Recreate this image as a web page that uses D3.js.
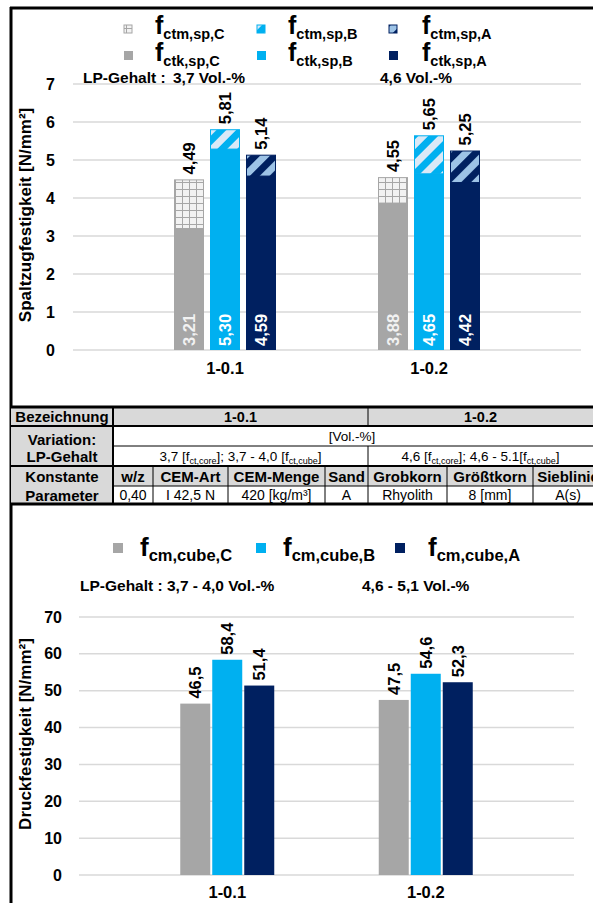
<!DOCTYPE html>
<html>
<head>
<meta charset="utf-8">
<script src="https://cdn.jsdelivr.net/npm/d3@7"></script>
<style>
  body { margin: 0; background: #fff; }
  svg { display: block; }
  text { font-family: "Liberation Sans", Arial, sans-serif; }
</style>
</head>
<body>
<svg id="chart" width="593" height="903"></svg>
<script>
// ---- data -------------------------------------------------------------
const categories = ["1-0.1", "1-0.2"];
const seriesKeys = ["C", "B", "A"];

// splitting tensile strength: mean (cube) and characteristic (core) values
const fctmC = [4.49, 4.55];
const fctmB = [5.81, 5.65];
const fctmA = [5.14, 5.25];
const fctkC = [3.21, 3.88];
const fctkB = [5.30, 4.65];
const fctkA = [4.59, 4.42];

// cube compressive strength
const fcmC = [46.5, 47.5];
const fcmB = [58.4, 54.6];
const fcmA = [51.4, 52.3];

const splitTicks = [0, 1, 2, 3, 4, 5, 6, 7];
const cubeTicks = [0, 10, 20, 30, 40, 50, 60, 70];

const lpSplit = ["3,7 Vol.-%", "4,6 Vol.-%"];
const lpCube = ["3,7 - 4,0 Vol.-%", "4,6 - 5,1 Vol.-%"];

const constHeads = ["w/z", "CEM-Art", "CEM-Menge", "Sand", "Grobkorn", "Größtkorn", "Sieblinie"];
const constVals = ["0,40", "I 42,5 N", "420 [kg/m³]", "A", "Rhyolith", "8 [mm]", "A(s)"];

// ---- styling ----------------------------------------------------------
const colors = { C: "#a6a6a6", B: "#00b0f0", A: "#002060" };
const locale = d3.formatLocale({ decimal: ",", thousands: ".", grouping: [3], currency: ["", "€"] });
const fmt2 = locale.format(".2f");
const fmt1 = locale.format(".1f");

const svg = d3.select("#chart");
const defs = svg.append("defs");

// grid pattern for the C series
const pc = defs.append("pattern").attr("id", "patC")
  .attr("patternUnits", "userSpaceOnUse").attr("width", 7).attr("height", 7);
pc.append("rect").attr("width", 7).attr("height", 7).attr("fill", "#a6a6a6");
pc.append("rect").attr("x", 1).attr("y", 1).attr("width", 6).attr("height", 6).attr("fill", "#f2f2f2");

// diagonal stripe patterns for B and A
function stripes(id, base, light) {
  const p = defs.append("pattern").attr("id", id)
    .attr("patternUnits", "userSpaceOnUse").attr("width", 14).attr("height", 14)
    .attr("patternTransform", "rotate(45)");
  p.append("rect").attr("width", 14).attr("height", 14).attr("fill", base);
  p.append("rect").attr("width", 7).attr("height", 14).attr("fill", light);
}
stripes("patB", "#00b0f0", "#dae9f7");
stripes("patA", "#002060", "#9dc3e6");
const patterns = { C: "url(#patC)", B: "url(#patB)", A: "url(#patA)" };

// ---- frame ------------------------------------------------------------
const frame = svg.append("g").attr("stroke", "#000").attr("stroke-width", 3);
frame.append("line").attr("x1", 11).attr("x2", 11).attr("y1", 7).attr("y2", 903);
frame.append("line").attr("x1", 10).attr("x2", 593).attr("y1", 8).attr("y2", 8);

// ---- helpers ------------------------------------------------------------
function legendText(g, x, y, sub, size, subSize) {
  const t = g.append("text").attr("x", x).attr("y", y)
    .attr("font-weight", "bold").attr("fill", "#000");
  t.append("tspan").attr("font-size", size).text("f");
  t.append("tspan").attr("font-size", subSize).attr("dy", 5).text(sub);
}
function styleAxisText(axis, size) {
  axis.select(".domain").remove();
  axis.selectAll("text").attr("font-size", size).attr("font-weight", "bold").attr("fill", "#000")
    .attr("font-family", "Liberation Sans, Arial, sans-serif");
}

// =======================================================================
// top chart: splitting tensile strength
// =======================================================================
const yS = d3.scaleLinear().domain([0, 7]).range([350, 84]);
const xS = d3.scaleBand().domain(categories).range([123, 531]);
const xSi = d3.scaleBand().domain(seriesKeys).range([-51, 51]).paddingInner(1 / 6);

const gSplit = svg.append("g");
gSplit.append("g").selectAll("line").data(splitTicks).join("line")
  .attr("x1", 73).attr("x2", 581)
  .attr("y1", d => yS(d)).attr("y2", d => yS(d))
  .attr("stroke", "#d9d9d9").attr("stroke-width", 1.5);

const yAxS = gSplit.append("g").attr("transform", "translate(57,0)")
  .call(d3.axisLeft(yS).tickValues(splitTicks).tickSize(0).tickPadding(2).tickFormat(d3.format("d")));
styleAxisText(yAxS, 16);

const xAxS = gSplit.append("g").attr("transform", "translate(0,359)")
  .call(d3.axisBottom(xS).tickSize(0).tickPadding(3));
styleAxisText(xAxS, 16.5);

gSplit.append("text").attr("transform", "translate(31,215) rotate(-90)")
  .attr("text-anchor", "middle").attr("font-size", 17).attr("font-weight", "bold")
  .text("Spaltzugfestigkeit [N/mm²]");

const splitRows = [];
categories.forEach((c, i) => {
  splitRows.push({ cat: c, key: "C", m: fctmC[i], k: fctkC[i] });
  splitRows.push({ cat: c, key: "B", m: fctmB[i], k: fctkB[i] });
  splitRows.push({ cat: c, key: "A", m: fctmA[i], k: fctkA[i] });
});
const bx = d => xS(d.cat) + xS.bandwidth() / 2 + xSi(d.key);
const bw = xSi.bandwidth();

// characteristic part (solid)
gSplit.append("g").selectAll("rect").data(splitRows).join("rect")
  .attr("x", bx).attr("width", bw)
  .attr("y", d => yS(d.k)).attr("height", d => yS(0) - yS(d.k))
  .attr("fill", d => colors[d.key]);
// mean part above (patterned)
gSplit.append("g").selectAll("rect").data(splitRows).join("rect")
  .attr("x", d => bx(d) + 0.5).attr("width", bw - 1)
  .attr("y", d => yS(d.m) + 0.5).attr("height", d => yS(d.k) - yS(d.m))
  .attr("fill", d => patterns[d.key])
  .attr("stroke", d => colors[d.key]).attr("stroke-width", 1);

// labels
gSplit.append("g").selectAll("text").data(splitRows).join("text")
  .attr("transform", d => `translate(${bx(d) + bw / 2 + 6},${yS(d.m) - 5}) rotate(-90)`)
  .attr("font-size", 16.5).attr("font-weight", "bold").attr("fill", "#000")
  .text(d => fmt2(d.m));
gSplit.append("g").selectAll("text").data(splitRows).join("text")
  .attr("transform", d => `translate(${bx(d) + bw / 2 + 6},${yS(0) - 4}) rotate(-90)`)
  .attr("font-size", 16.5).attr("font-weight", "bold").attr("fill", d => d.key === "C" ? "#f2f2f2" : "#fff")
  .text(d => fmt2(d.k));

// legend
const legTop = svg.append("g");
const legX = [128, 261, 393];
const legTX = [155, 288, 422];
seriesKeys.forEach((k, i) => {
  legTop.append("rect").attr("x", legX[i] - 4).attr("y", 25).attr("width", 8).attr("height", 8)
    .attr("fill", patterns[k]).attr("stroke", colors[k]).attr("stroke-width", 1);
  legendText(legTop, legTX[i], 34, "ctm,sp," + k, 25, 14.5);
  legTop.append("rect").attr("x", legX[i] - 4).attr("y", 51).attr("width", 9).attr("height", 9)
    .attr("fill", colors[k]);
  legendText(legTop, legTX[i], 61, "ctk,sp," + k, 25, 14.5);
});
legTop.append("text").attr("x", 83).attr("y", 83).attr("font-size", 15.5).attr("font-weight", "bold")
  .text("LP-Gehalt :");
legTop.append("text").attr("x", 173).attr("y", 83).attr("font-size", 15.5).attr("font-weight", "bold")
  .text(lpSplit[0]);
legTop.append("text").attr("x", 380).attr("y", 83).attr("font-size", 15.5).attr("font-weight", "bold")
  .text(lpSplit[1]);

// =======================================================================
// table
// =======================================================================
const tb = svg.append("g");
const colX = [113, 153, 228, 325, 368, 447, 533, 600];
const rowY = [407, 426, 446, 466, 486, 504];
const gray = "#d9d9d9";

tb.append("rect").attr("x", 11).attr("y", rowY[0]).attr("width", 590).attr("height", rowY[1] - rowY[0]).attr("fill", gray);
tb.append("rect").attr("x", 11).attr("y", rowY[1]).attr("width", 102).attr("height", rowY[5] - rowY[1]).attr("fill", gray);
tb.append("rect").attr("x", 113).attr("y", rowY[3]).attr("width", 490).attr("height", rowY[4] - rowY[3]).attr("fill", gray);

const tl = tb.append("g").attr("stroke", "#000");
tl.append("line").attr("x1", 10).attr("x2", 593).attr("y1", rowY[0]).attr("y2", rowY[0]).attr("stroke-width", 3);
tl.append("line").attr("x1", 11).attr("x2", 593).attr("y1", rowY[1]).attr("y2", rowY[1]).attr("stroke-width", 2);
tl.append("line").attr("x1", 113).attr("x2", 593).attr("y1", rowY[2]).attr("y2", rowY[2]).attr("stroke-width", 1);
tl.append("line").attr("x1", 11).attr("x2", 593).attr("y1", rowY[3]).attr("y2", rowY[3]).attr("stroke-width", 2);
tl.append("line").attr("x1", 113).attr("x2", 593).attr("y1", rowY[4]).attr("y2", rowY[4]).attr("stroke-width", 1);
tl.append("line").attr("x1", 10).attr("x2", 593).attr("y1", rowY[5]).attr("y2", rowY[5]).attr("stroke-width", 3);
tl.append("line").attr("x1", 113).attr("x2", 113).attr("y1", rowY[0]).attr("y2", rowY[5]).attr("stroke-width", 2);
tl.append("line").attr("x1", colX[4]).attr("x2", colX[4]).attr("y1", rowY[0]).attr("y2", rowY[1]).attr("stroke-width", 1);
tl.append("line").attr("x1", colX[4]).attr("x2", colX[4]).attr("y1", rowY[2]).attr("y2", rowY[3]).attr("stroke-width", 1);
colX.slice(1, 7).forEach(x => {
  tl.append("line").attr("x1", x).attr("x2", x).attr("y1", rowY[3]).attr("y2", rowY[5]).attr("stroke-width", 1);
});

function cell(x, y, txt, bold, size) {
  return tb.append("text").attr("x", x).attr("y", y).attr("dy", "0.35em")
    .attr("text-anchor", "middle").attr("font-size", size || 13)
    .attr("font-weight", bold ? "bold" : "normal").text(txt);
}
cell(62, 416.5, "Bezeichnung", true, 15);
cell(62, 439.5, "Variation:", true, 15);
cell(62, 457, "LP-Gehalt", true, 15);
cell(62, 476.5, "Konstante", true, 15);
cell(62, 495.5, "Parameter", true, 15);
cell((113 + colX[4]) / 2, 416.5, categories[0], true, 14.5);
cell((colX[4] + 593) / 2, 416.5, categories[1], true, 14.5);
cell(352, 436, "[Vol.-%]", false, 13.5);

function lpCell(x, main1, main2, spaced) {
  const t = tb.append("text").attr("x", x).attr("y", 456).attr("dy", "0.35em")
    .attr("text-anchor", "middle").attr("font-size", 13.5);
  t.append("tspan").text(main1 + " [f");
  t.append("tspan").attr("font-size", 9).attr("dy", 3).text("ct,core");
  t.append("tspan").attr("dy", -3).text("]; " + main2 + (spaced ? " [f" : "[f"));
  t.append("tspan").attr("font-size", 9).attr("dy", 3).text("ct,cube");
  t.append("tspan").attr("dy", -3).text("]");
}
lpCell((113 + colX[4]) / 2, "3,7", "3,7 - 4,0", true);
lpCell((colX[4] + 593) / 2, "4,6", "4,6 - 5.1", false);

constHeads.forEach((h, i) => {
  const mx = i < 6 ? (colX[i] + colX[i + 1]) / 2 : 568;
  cell(mx, 476.5, h, true, 15);
  cell(mx, 495.5, constVals[i], false, 14);
});

// =======================================================================
// bottom chart: cube compressive strength
// =======================================================================
const yC = d3.scaleLinear().domain([0, 70]).range([875, 617]);
const xC = d3.scaleBand().domain(categories).range([128, 525]);
const xCi = d3.scaleBand().domain(seriesKeys).range([-47, 47]).paddingInner(2 / 32);

const gCube = svg.append("g");
gCube.append("g").selectAll("line").data(cubeTicks).join("line")
  .attr("x1", 79).attr("x2", 574)
  .attr("y1", d => yC(d)).attr("y2", d => yC(d))
  .attr("stroke", "#d9d9d9").attr("stroke-width", 1.5);

const yAxC = gCube.append("g").attr("transform", "translate(64,0)")
  .call(d3.axisLeft(yC).tickValues(cubeTicks).tickSize(0).tickPadding(2).tickFormat(d3.format("d")));
styleAxisText(yAxC, 16);

const xAxC = gCube.append("g").attr("transform", "translate(0,883)")
  .call(d3.axisBottom(xC).tickSize(0).tickPadding(3));
styleAxisText(xAxC, 16.5);

gCube.append("text").attr("transform", "translate(31,734) rotate(-90)")
  .attr("text-anchor", "middle").attr("font-size", 17).attr("font-weight", "bold")
  .text("Druckfestigkeit [N/mm²]");

const cubeRows = [];
categories.forEach((c, i) => {
  cubeRows.push({ cat: c, key: "C", v: fcmC[i] });
  cubeRows.push({ cat: c, key: "B", v: fcmB[i] });
  cubeRows.push({ cat: c, key: "A", v: fcmA[i] });
});
const cbx = d => xC(d.cat) + xC.bandwidth() / 2 + xCi(d.key);
const cbw = xCi.bandwidth();

gCube.append("g").selectAll("rect").data(cubeRows).join("rect")
  .attr("x", cbx).attr("width", cbw)
  .attr("y", d => yC(d.v)).attr("height", d => yC(0) - yC(d.v))
  .attr("fill", d => colors[d.key]);

gCube.append("g").selectAll("text").data(cubeRows).join("text")
  .attr("transform", d => `translate(${cbx(d) + cbw / 2 + 6},${yC(d.v) - 5}) rotate(-90)`)
  .attr("font-size", 16.5).attr("font-weight", "bold").attr("fill", "#000")
  .text(d => fmt1(d.v));

const legBot = svg.append("g");
const legBX = [118, 261, 400];
const legBTX = [140, 283, 428];
seriesKeys.forEach((k, i) => {
  legBot.append("rect").attr("x", legBX[i] - 5).attr("y", 543).attr("width", 10).attr("height", 10)
    .attr("fill", colors[k]);
  legendText(legBot, legBTX[i], 556, "cm,cube," + k, 26, 16.5);
});
legBot.append("text").attr("x", 80).attr("y", 591).attr("font-size", 15.5).attr("font-weight", "bold")
  .text("LP-Gehalt : " + lpCube[0]);
legBot.append("text").attr("x", 362).attr("y", 591).attr("font-size", 15.5).attr("font-weight", "bold")
  .text(lpCube[1]);
</script>
</body>
</html>
